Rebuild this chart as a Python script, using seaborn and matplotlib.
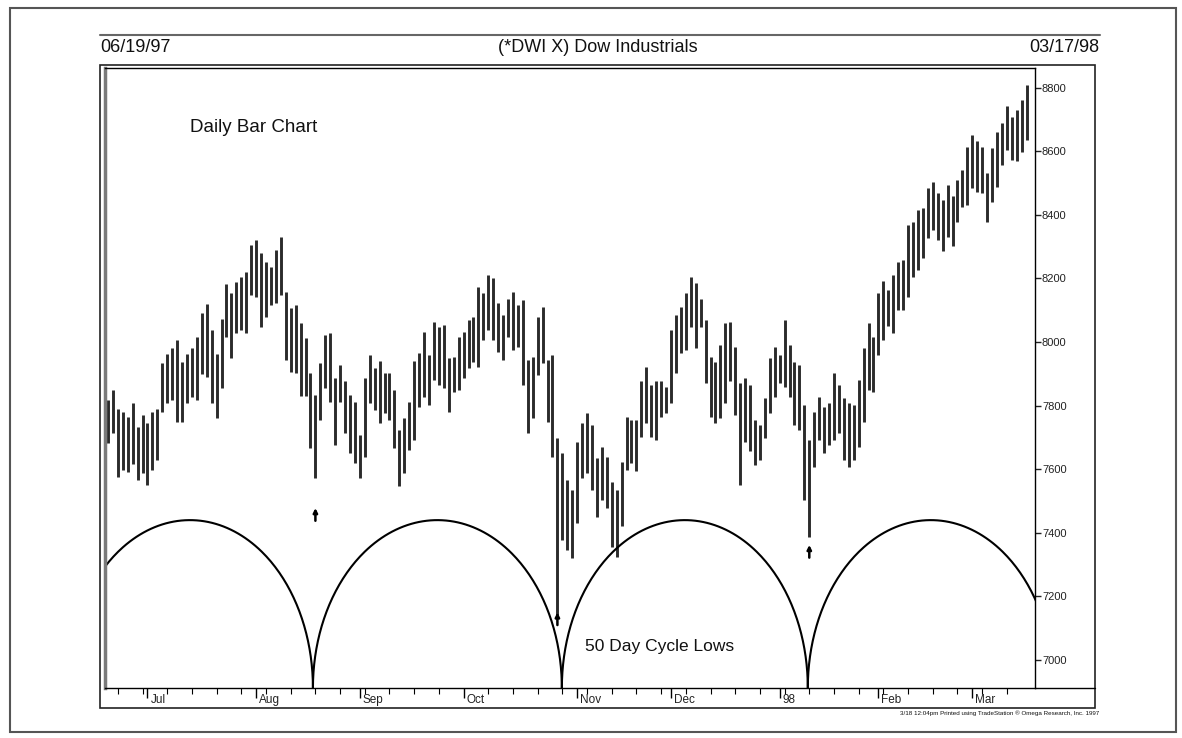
import numpy as np
import pandas as pd
import matplotlib
matplotlib.use("Agg")
import matplotlib.pyplot as plt
import seaborn as sns
from matplotlib.lines import Line2D
from matplotlib.patches import Rectangle

sns.set_theme(style="white")
plt.rcParams["font.family"] = ["Liberation Sans", "DejaVu Sans"]

# daily highs / lows, 06/19/97 .. 03/17/98 (one per trading day)
highs = [7818, 7849, 7791, 7781, 7765, 7807, 7734, 7770, 7744, 7781,
         7791, 7933, 7964, 7980, 8006, 7938, 7964, 7980, 8017, 8090,
         8121, 8038, 7964, 8074, 8184, 8153, 8190, 8205, 8221, 8305,
         8321, 8279, 8253, 8237, 8290, 8332, 8159, 8106, 8117, 8059,
         8012, 7902, 7834, 7933, 8022, 8028, 7886, 7928, 7876, 7834,
         7813, 7708, 7886, 7960, 7918, 7939, 7902, 7902, 7850, 7724,
         7760, 7813, 7939, 7965, 8033, 7959, 8064, 8048, 8054, 7949,
         7954, 8017, 8033, 8069, 8080, 8174, 8153, 8211, 8200, 8122,
         8085, 8137, 8158, 8117, 8132, 7944, 7954, 8080, 8111, 7944,
         7959, 7697, 7650, 7566, 7535, 7687, 7745, 7776, 7739, 7634,
         7671, 7640, 7561, 7535, 7624, 7765, 7755, 7755, 7876, 7923,
         7865, 7876, 7876, 7860, 8038, 8085, 8111, 8153, 8206, 8185,
         8137, 8069, 7954, 7938, 7990, 8059, 8064, 7986, 7870, 7886,
         7865, 7755, 7739, 7823, 7949, 7986, 7959, 8069, 7991, 7938,
         7928, 7802, 7692, 7781, 7828, 7797, 7807, 7902, 7865, 7823,
         7807, 7802, 7881, 7980, 8059, 8017, 8154, 8191, 8164, 8212,
         8253, 8259, 8369, 8379, 8416, 8421, 8484, 8505, 8468, 8447,
         8494, 8458, 8510, 8542, 8615, 8652, 8631, 8615, 8531, 8610,
         8662, 8688, 8741, 8709, 8730, 8762, 8809]
lows = [7681, 7713, 7576, 7597, 7592, 7618, 7566, 7587, 7550, 7597,
        7629, 7781, 7807, 7818, 7749, 7749, 7807, 7828, 7818, 7901,
        7891, 7807, 7760, 7854, 8017, 7949, 8027, 8038, 8027, 8148,
        8142, 8048, 8080, 8117, 8122, 8148, 7944, 7907, 7902, 7829,
        7829, 7666, 7572, 7755, 7855, 7813, 7677, 7813, 7713, 7650,
        7619, 7572, 7640, 7808, 7787, 7745, 7776, 7755, 7666, 7546,
        7588, 7661, 7692, 7797, 7828, 7802, 7881, 7865, 7855, 7781,
        7844, 7849, 7886, 7917, 7938, 7923, 8006, 8038, 8006, 7970,
        7944, 8017, 7975, 7986, 7865, 7713, 7760, 7896, 7933, 7750,
        7640, 7142, 7378, 7346, 7320, 7430, 7572, 7587, 7535, 7451,
        7503, 7477, 7357, 7325, 7420, 7598, 7619, 7593, 7703, 7745,
        7703, 7692, 7765, 7776, 7807, 7902, 7965, 7975, 8048, 7980,
        8048, 7870, 7765, 7745, 7760, 7807, 7876, 7771, 7551, 7687,
        7656, 7614, 7629, 7697, 7776, 7828, 7870, 7860, 7828, 7739,
        7724, 7504, 7388, 7608, 7692, 7650, 7676, 7692, 7713, 7629,
        7608, 7629, 7671, 7750, 7849, 7844, 7960, 8007, 8049, 8028,
        8101, 8101, 8143, 8206, 8227, 8264, 8327, 8353, 8321, 8285,
        8332, 8301, 8379, 8426, 8432, 8484, 8473, 8468, 8379, 8442,
        8489, 8557, 8604, 8573, 8568, 8599, 8636]

month_labels = ["Jul", "Aug", "Sep", "Oct", "Nov", "Dec", "98", "Feb", "Mar"]
month_starts = [8, 30, 51, 72, 95, 114, 136, 156, 175]
price_ticks = [7000, 7200, 7400, 7600, 7800, 8000, 8200, 8400, 8600, 8800]

# 50 day cycle lows (bar numbers) and height of the cycle arcs
cycle_lows = [-8.3, 41.5, 91.9, 141.7, 191.5]
arc_top = 7440
arrow_bars = [42, 91, 142]
arrow_tips = [7478, 7150, 7362]

df = pd.DataFrame({"bar": np.arange(len(highs)), "high": highs, "low": lows})

W, H = 1182, 738
fx = lambda px: px / W
fy = lambda py: 1 - py / H

fig = plt.figure(figsize=(11.82, 7.38), dpi=100)
ax = fig.add_axes([fx(105), fy(688), fx(1035) - fx(105), fy(68) - fy(688)])
y_lo, y_hi = 6912, 8862
ax.set_xlim(-0.6, 187.7)
ax.set_ylim(y_lo, y_hi)

# price bars
ax.vlines(df["bar"], df["low"], df["high"], color="#2b2b2b", lw=2.1)

# cycle arcs
parts = []
theta = np.linspace(0, np.pi, 200)
for k in range(len(cycle_lows) - 1):
    a, b = cycle_lows[k], cycle_lows[k + 1]
    c, r = (a + b) / 2, (b - a) / 2
    parts.append(pd.DataFrame({"x": c - r * np.cos(theta),
                               "y": y_lo + (arc_top - y_lo) * np.sin(theta),
                               "seg": k}))
arcs = pd.concat(parts, ignore_index=True)
sns.lineplot(data=arcs, x="x", y="y", units="seg", estimator=None, sort=False,
             color="black", lw=1.5, ax=ax, legend=False)

for b, tip in zip(arrow_bars, arrow_tips):
    ax.annotate("", xy=(b, tip), xytext=(b, tip - 40),
                arrowprops=dict(arrowstyle="-|>", color="black", lw=1.8,
                                mutation_scale=6, shrinkA=0, shrinkB=0))

ax.set_xlabel("")
ax.set_ylabel("")

# right price axis
ax.yaxis.tick_right()
ax.set_yticks(price_ticks)
ax.set_yticklabels([str(v) for v in price_ticks])
ax.tick_params(axis="y", direction="out", length=4, width=1, colors="#222",
               labelsize=8, pad=1, left=False, right=True)

# bottom date axis
ax.set_xticks(month_starts)
ax.set_xticklabels([])
ax.set_xticks(np.arange(2, len(highs), 5), minor=True)
ax.tick_params(axis="x", which="major", direction="out", length=7, width=1,
               color="black", bottom=True)
ax.tick_params(axis="x", which="minor", direction="out", length=4, width=0.8,
               color="black", bottom=True)
for m, lab in zip(month_starts, month_labels):
    ax.text(m + 0.6, -0.019, lab, transform=ax.get_xaxis_transform(),
            ha="left", va="center", fontsize=8.5, color="#222")

for side in ["top", "right", "bottom"]:
    ax.spines[side].set_color("black")
    ax.spines[side].set_linewidth(1)
ax.spines["left"].set_color("#7a7a7a")
ax.spines["left"].set_linewidth(2.5)

# chart box and page frame
fig.add_artist(Rectangle((fx(100), fy(708)), fx(1095) - fx(100), fy(65) - fy(708),
                         transform=fig.transFigure, fill=False, lw=1.2, ec="#222"))
fig.add_artist(Line2D([fx(1035), fx(1095)], [fy(688), fy(688)],
                      transform=fig.transFigure, lw=1, color="black"))
fig.add_artist(Line2D([fx(100), fx(1100)], [fy(35), fy(35)],
                      transform=fig.transFigure, lw=1.5, color="#666"))
fig.add_artist(Rectangle((fx(10), fy(732)), fx(1176) - fx(10), fy(8) - fy(732),
                         transform=fig.transFigure, fill=False, lw=1.5, ec="#555"))

fig.text(fx(100), fy(48), "06/19/97", ha="left", va="center", fontsize=13, color="#111")
fig.text(fx(598), fy(48), "(*DWI X) Dow Industrials", ha="center", va="center",
         fontsize=13, color="#111")
fig.text(fx(1099), fy(48), "03/17/98", ha="right", va="center", fontsize=13, color="#111")
fig.text(fx(190), fy(128), "Daily Bar Chart", ha="left", va="center", fontsize=13.5,
         color="#111")
fig.text(fx(585), fy(647), "50 Day Cycle Lows", ha="left", va="center", fontsize=12.5,
         color="#111")
fig.text(fx(1099), fy(713), "3/18 12:04pm Printed using TradeStation \u00ae Omega Research, Inc. 1997",
         ha="right", va="center", fontsize=4.5, color="#111")

fig.savefig("out.png", dpi=100)
